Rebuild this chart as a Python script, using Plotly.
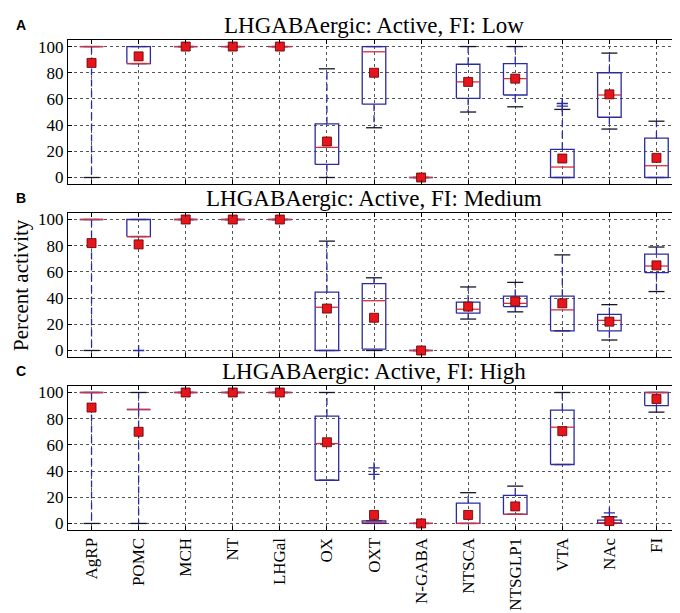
import plotly.graph_objects as go

regions = ['AgRP', 'POMC', 'MCH', 'NT', 'LHGal', 'OX', 'OXT', 'N-GABA',
           'NTSCA', 'NTSGLP1', 'VTA', 'NAc', 'FI']
yticks = [0, 20, 40, 60, 80, 100]
titles = ['LHGABAergic: Active, FI: Low',
          'LHGABAergic: Active, FI: Medium',
          'LHGABAergic: Active, FI: High']
letters = ['A', 'B', 'C']

# FI: Low
low_lo  = [0, 87, 100, 100, 100, 0, 38, 0, 50, 54, 0, 37, 0]
low_q1  = [100, 87, 100, 100, 100, 10, 56, 0, 60.5, 63, 0, 46, 0]
low_med = [100, 87, 100, 100, 100, 23, 96, 0, 73, 75.5, 8, 63, 9]
low_q3  = [100, 100, 100, 100, 100, 41, 100, 0, 86.5, 87, 21.5, 80, 30]
low_hi  = [100, 100, 100, 100, 100, 83, 100, 0, 100, 100, 52, 95, 43]
low_mean = [87.5, 92.5, 100, 100, 100, 27.5, 80, 0, 73, 75.5, 14.5, 63.5, 15]
low_fliers = {'VTA': [54.5, 56.5]}

# FI: Medium
med_lo  = [0, 87, 100, 100, 100, 0, 0, 0, 24, 29.5, 15, 8, 45]
med_q1  = [100, 87, 100, 100, 100, 0, 1, 0, 28.5, 33.5, 15, 15, 59.5]
med_med = [100, 87, 100, 100, 100, 33, 38, 0, 31.5, 36, 31, 23, 64.5]
med_q3  = [100, 100, 100, 100, 100, 44.5, 51, 0, 37, 41.5, 41.5, 27.5, 73.5]
med_hi  = [100, 100, 100, 100, 100, 83.5, 55.5, 0, 48.5, 52, 73, 35, 79]
med_mean = [82, 81, 100, 100, 100, 32, 25, 0, 33.5, 37.5, 36, 22, 65]
med_fliers = {'POMC': [0]}

# FI: High
high_lo  = [0, 0, 100, 100, 100, 33, 0, 0, 0, 7, 45, 0, 85]
high_q1  = [100, 87, 100, 100, 100, 33, 0, 0, 0, 7, 45, 0, 90]
high_med = [100, 87, 100, 100, 100, 61, 1, 0, 0, 7, 73.5, 0.5, 100]
high_q3  = [100, 87, 100, 100, 100, 82, 2, 0, 15.5, 21.5, 86.5, 2.5, 100]
high_hi  = [100, 100, 100, 100, 100, 100, 2, 0, 23.5, 28.5, 100, 5, 100]
high_mean = [88.5, 70, 100, 100, 100, 62, 6.5, 0, 6.5, 13, 70.5, 1.8, 95]
high_fliers = {'OXT': [37.5, 42.5], 'NAc': [8]}

panels = [
    (low_lo, low_q1, low_med, low_q3, low_hi, low_mean, low_fliers),
    (med_lo, med_q1, med_med, med_q3, med_hi, med_mean, med_fliers),
    (high_lo, high_q1, high_med, high_q3, high_hi, high_mean, high_fliers),
]

BLUE = '#2b2b9e'
RED = '#d2303c'
SERIF = 'Liberation Serif'
half = 0.25   # half box width
cap = 0.17    # half cap width

# domains (paper, bottom -> top) for panels A, B, C
domains = [[0.706, 1.0], [0.353, 0.647], [0.0, 0.294]]

fig = go.Figure()

for p, (lo, q1, med, q3, hi, mean, fliers) in enumerate(panels):
    xa = 'x' if p == 0 else 'x%d' % (p + 1)
    ya = 'y' if p == 0 else 'y%d' % (p + 1)
    pos = list(range(1, len(regions) + 1))

    bx, by, wx, wy, cx, cy, mx, my = [], [], [], [], [], [], [], []
    for i, x in enumerate(pos):
        bx += [x - half, x + half, x + half, x - half, x - half, None]
        by += [q1[i], q1[i], q3[i], q3[i], q1[i], None]
        wx += [x, x, None, x, x, None]
        wy += [q3[i], hi[i], None, q1[i], lo[i], None]
        cx += [x - cap, x + cap, None, x - cap, x + cap, None]
        cy += [hi[i], hi[i], None, lo[i], lo[i], None]
        mx += [x - half, x + half, None]
        my += [med[i], med[i], None]

    fig.add_trace(go.Scatter(x=wx, y=wy, mode='lines', xaxis=xa, yaxis=ya,
                             line=dict(color=BLUE, width=1.3, dash='7px,4px'),
                             showlegend=False, hoverinfo='skip'))
    fig.add_trace(go.Scatter(x=cx, y=cy, mode='lines', xaxis=xa, yaxis=ya,
                             line=dict(color='#15152a', width=1.3),
                             showlegend=False, hoverinfo='skip'))
    fig.add_trace(go.Scatter(x=bx, y=by, mode='lines', xaxis=xa, yaxis=ya,
                             line=dict(color=BLUE, width=1.3),
                             showlegend=False, hoverinfo='skip'))
    fig.add_trace(go.Scatter(x=mx, y=my, mode='lines', xaxis=xa, yaxis=ya,
                             line=dict(color=RED, width=1.3),
                             showlegend=False, hoverinfo='skip'))

    fx, fy = [], []
    for name, vals in fliers.items():
        for v in vals:
            fx.append(regions.index(name) + 1)
            fy.append(v)
    fig.add_trace(go.Scatter(x=fx, y=fy, mode='markers', xaxis=xa, yaxis=ya,
                             marker=dict(symbol='cross-thin', size=8,
                                         line=dict(color=BLUE, width=1.3)),
                             showlegend=False, hoverinfo='skip'))
    fig.add_trace(go.Scatter(x=pos, y=mean, mode='markers', xaxis=xa, yaxis=ya,
                             marker=dict(symbol='square', size=9, color='#e8141c',
                                         line=dict(color='#5a0000', width=0.8)),
                             showlegend=False))

    axis_x = dict(domain=[0, 1], range=[0.5, 13.5], tickvals=pos,
                  ticktext=regions, showticklabels=(p == 2), tickangle=-90,
                  tickfont=dict(family=SERIF, size=17, color='black'),
                  showgrid=True, gridcolor='#555', griddash='dot', gridwidth=1,
                  showline=True, linecolor='black', linewidth=1.2, mirror='ticks',
                  ticks='inside', ticklen=4, tickcolor='black', zeroline=False,
                  anchor=ya)
    axis_y = dict(domain=domains[p], range=[-5, 105], tickvals=yticks,
                  tickfont=dict(family=SERIF, size=17, color='black'),
                  showgrid=True, gridcolor='#555', griddash='dot', gridwidth=1,
                  showline=True, linecolor='black', linewidth=1.2, mirror='ticks',
                  ticks='inside', ticklen=4, tickcolor='black', zeroline=False,
                  anchor=xa)
    fig.update_layout({('xaxis' if p == 0 else 'xaxis%d' % (p + 1)): axis_x,
                       ('yaxis' if p == 0 else 'yaxis%d' % (p + 1)): axis_y})

    fig.add_annotation(text=titles[p], xref='paper', yref='paper', x=0.5,
                       y=domains[p][1], xanchor='center', yanchor='bottom',
                       showarrow=False, font=dict(family=SERIF, size=23, color='black'))
    fig.add_annotation(text='<b>%s</b>' % letters[p], xref='paper', yref='paper',
                       x=-0.077, y=domains[p][1], yshift=15, xanchor='center',
                       yanchor='middle', showarrow=False,
                       font=dict(family='Liberation Sans', size=14, color='black'))

fig.add_annotation(text='Percent activity', xref='paper', yref='paper',
                   x=-0.077, y=0.5, xanchor='center', yanchor='middle',
                   textangle=-90, showarrow=False,
                   font=dict(family=SERIF, size=21, color='black'))

fig.update_layout(width=680, height=613, margin=dict(l=60, r=8, t=32, b=91),
                  plot_bgcolor='white', paper_bgcolor='white')

fig.write_html('out.html')
